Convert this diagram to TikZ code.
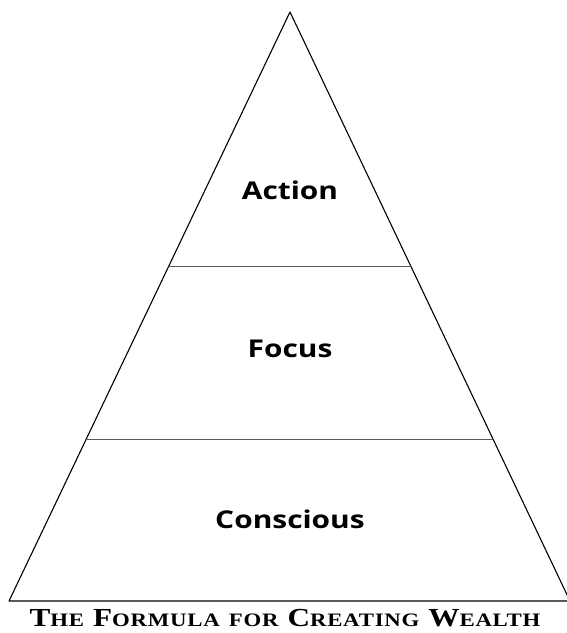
\documentclass[tikz,border=0pt]{standalone}
\usepackage{fontspec}
\usetikzlibrary{calc}
\newfontfamily\labelfont[FakeStretch=1.22]{Open Sans}
\newfontfamily\titlefont[FakeStretch=1.2,LetterSpace=4]{Liberation Serif}
\newcommand\smcap[2]{{\fontsize{26}{26}\selectfont #1}{\fontsize{19}{20}\selectfont #2}}

\tikzset{
  level/.style={font=\labelfont\bfseries\fontsize{24.5}{26}\selectfont,inner sep=0pt,anchor=base},
  side/.style={line width=1.1pt,color=black},
  divider/.style={line width=0.9pt,color=black!65}
}

\begin{document}
\begin{tikzpicture}[line cap=round,line join=round,x=1pt,y=-1pt]
\useasboundingbox (0,0) rectangle (567,633);
\coordinate (top) at (290,12);
\coordinate (bl) at (9,601);
\coordinate (br) at (570,601);
\draw[side] (bl) -- (top) -- (br) -- cycle;
% the two floors
\coordinate (l1) at ($(top)!0.4312!(bl)$);
\coordinate (r1) at ($(top)!0.4312!(br)$);
\coordinate (l2) at ($(top)!0.7250!(bl)$);
\coordinate (r2) at ($(top)!0.7250!(br)$);
\draw[divider] (l1) -- (r1);
\draw[divider] (l2) -- (r2);
\node[level] (action) at (290,199) {Action};
\node[level] (focus) at (290,357) {Focus};
\node[level] (conscious) at (290,528) {Conscious};
\node[inner sep=0pt,anchor=base,font=\titlefont\bfseries] (title) at (285,626)
  {\smcap{T}{HE}\hspace{9pt}\smcap{F}{ORMULA}\hspace{9pt}\smcap{}{FOR}\hspace{9pt}\smcap{C}{REATING}\hspace{9pt}\smcap{W}{EALTH}};
\end{tikzpicture}
\end{document}
